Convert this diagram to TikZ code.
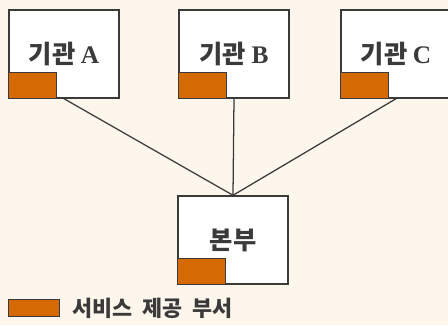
\documentclass[tikz,border=0pt]{standalone}
\usepackage{fontspec}
\setmainfont{Liberation Serif}
\newfontfamily\kr{Noto Sans CJK KR}
\definecolor{cream}{HTML}{FDF6EC}
\definecolor{svcorange}{HTML}{D56A04}
\definecolor{ink}{HTML}{3A3A3A}
\newcommand{\agency}[1]{{\kr\bfseries 기관}\hspace{0.22em}\textbf{#1}}
\begin{document}
\begin{tikzpicture}[x=0.025cm,y=-0.025cm]
        \tikzstyle{office}=[rectangle,draw=ink,fill=white,line width=1pt,minimum width=2.75cm,minimum height=2.2cm,inner sep=0pt,text=ink,font=\fontsize{18}{21}\selectfont]
        \tikzstyle{service}=[rectangle,draw=ink,fill=svcorange,line width=0.6pt,minimum width=1.2cm,minimum height=0.65cm,inner sep=0pt]
        \tikzstyle{edge}=[draw=ink, line width=0.9pt]
        \useasboundingbox[fill=cream] (0,0) rectangle (448,325);
       \begin{scope}
         \node [office] (a) at (64,54) {\agency{A}};
         \node [office] (b) at (234,54) {\agency{B}};
         \node [office] (c) at (396,54) {\agency{C}};
         \node [office] (hq) at (233,240) {\kr\bfseries 본부};
         \node [service,anchor=south west] (sa) at (a.south west) {};
         \node [service,anchor=south west] (sb) at (b.south west) {};
         \node [service,anchor=south west] (sc) at (c.south west) {};
         \node [service,anchor=south west] (shq) at (hq.south west) {};
         \path[edge] (a.south) edge (hq.north);
         \path[edge] (b.south) edge (hq.north);
         \path[edge] (c.south) edge (hq.north);
        \end{scope}
        % legend
        \node [service,anchor=north west,minimum width=1.275cm,minimum height=0.425cm] (key) at (8,299) {};
        \node [anchor=west,inner sep=0pt,text=ink,font=\kr\bfseries\fontsize{15.5}{18}\selectfont] (keytext) at (72,308) {서비스\hspace{0.45em}제공\hspace{0.45em}부서};
      \end{tikzpicture}
\end{document}
